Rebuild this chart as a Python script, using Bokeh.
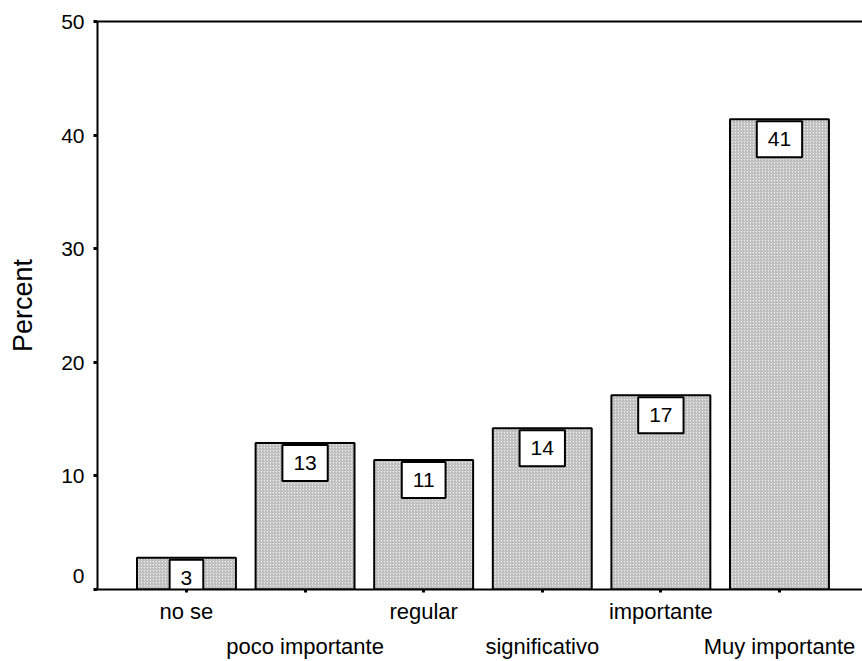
from bokeh.plotting import figure
from bokeh.models import Range1d, FixedTicker, LinearAxis, ColumnDataSource
from bokeh.core.properties import value
from bokeh.embed import file_html
from bokeh.resources import INLINE

categories = ["no se", "poco importante", "regular", "significativo", "importante", "Muy importante"]
percents = [2.8, 12.9, 11.4, 14.2, 17.1, 41.4]
bar_labels = ["3", "13", "11", "14", "17", "41"]
y_ticks = [0, 10, 20, 30, 40, 50]

positions = list(range(1, len(categories) + 1))
FONT = "Liberation Sans"

src = ColumnDataSource(dict(x=positions, top=percents, lab=bar_labels))

p = figure(width=862, height=661,
           x_range=Range1d(0.25, 6.70), y_range=Range1d(0, 50),
           output_backend="svg", toolbar_location=None,
           min_border_left=97, min_border_right=0,
           min_border_top=21, min_border_bottom=0)
p.grid.visible = False
p.outline_line_color = None
p.background_fill_color = "white"
p.border_fill_color = "white"

p.vbar(x="x", top="top", width=0.834, source=src,
       fill_color="#ececec", hatch_pattern="right_diagonal_line",
       hatch_color="#a8a8a8", hatch_scale=3, hatch_weight=1,
       line_color="black", line_width=2)

p.text(x="x", y="top", text="lab", source=src, anchor="top_center", y_offset=2,
       text_font=value(FONT), text_font_size="21px", text_color="black",
       padding=dict(left=11, right=11, top=11, bottom=11),
       background_fill_color="white", border_line_color="black", border_line_width=2)

# y axis
ya = p.yaxis[0]
ya.ticker = FixedTicker(ticks=y_ticks)
ya.major_label_overrides = {0: "0\n "}
ya.axis_label = "Percent"
ya.axis_label_text_font = FONT
ya.axis_label_text_font_size = "27px"
ya.axis_label_text_font_style = "normal"
ya.axis_label_text_color = "black"
ya.axis_label_standoff = 20
ya.major_label_text_font = FONT
ya.major_label_text_font_size = "21px"
ya.major_label_text_color = "black"
ya.major_label_standoff = 9
ya.major_tick_out = 4
ya.major_tick_in = 0
ya.major_tick_line_width = 3
ya.minor_tick_out = 0
ya.minor_tick_in = 0
ya.axis_line_width = 2
ya.axis_line_color = "black"

# x axis, first row
xa = p.xaxis[0]
xa.ticker = FixedTicker(ticks=positions)
xa.major_label_overrides = {pos: (cat if i % 2 == 0 else "") for i, (pos, cat) in enumerate(zip(positions, categories))}
xa.major_label_text_font = FONT
xa.major_label_text_font_size = "22px"
xa.major_label_text_color = "black"
xa.major_label_standoff = 6
xa.major_tick_out = 3
xa.major_tick_in = 0
xa.major_tick_line_width = 3
xa.minor_tick_out = 0
xa.minor_tick_in = 0
xa.axis_line_width = 2
xa.axis_line_color = "black"

# x axis, second (staggered) row
xb = LinearAxis(ticker=FixedTicker(ticks=positions),
                major_label_overrides={pos: (cat if i % 2 == 1 else "") for i, (pos, cat) in enumerate(zip(positions, categories))},
                axis_line_color=None, major_tick_line_color=None,
                major_tick_out=0, major_tick_in=0, minor_tick_out=0, minor_tick_in=0,
                major_label_standoff=7,
                major_label_text_font=FONT, major_label_text_font_size="22px",
                major_label_text_color="black")
p.add_layout(xb, "below")

# top frame line
xt = LinearAxis(ticker=FixedTicker(ticks=[]), axis_line_width=2, axis_line_color="black",
                major_tick_out=0, major_tick_in=0, minor_tick_out=0, minor_tick_in=0,
                major_label_standoff=0, major_label_text_font_size="0px")
p.add_layout(xt, "above")

open("out.html", "w").write(file_html(p, INLINE))
